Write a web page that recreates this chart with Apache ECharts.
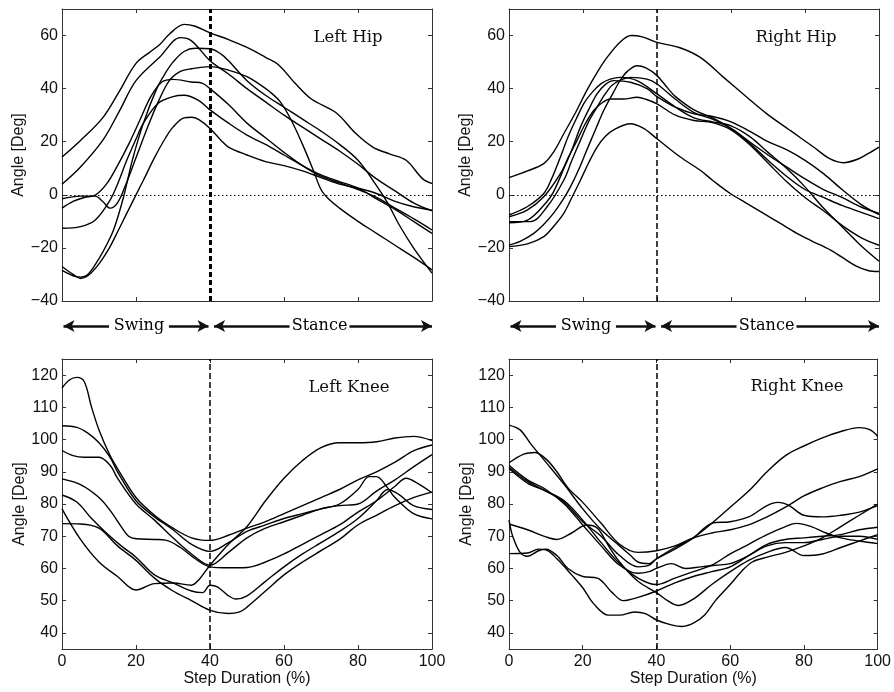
<!DOCTYPE html>
<html><head><meta charset="utf-8">
<script src="https://cdn.jsdelivr.net/npm/echarts@6/dist/echarts.min.js"></script>
<style>html,body{margin:0;padding:0;background:#fff}#c{width:894px;height:692px}</style>
</head><body><div id="c"></div>
<script>
// ---------- tick values / labels ----------
const xTicks = [0, 20, 40, 60, 80, 100];
const hipTicks = [-40, -20, 0, 20, 40, 60];
const kneeTicks = [40, 50, 60, 70, 80, 90, 100, 110, 120];
const hipRange = [-40, 70];
const kneeRange = [35, 125];
const panelTitles = ['Left Hip', 'Right Hip', 'Left Knee', 'Right Knee'];
const phaseNames = ['Swing', 'Stance'];
const phaseSplit = 40;

// ---------- Left Hip curves [step %, angle] ----------
const leftHip1 = [[0,14.25],[5,20.5],[11,29],[15.5,39],[20,49.5],[24,54],[26.5,56.7],[29,60.5],[33,64.2],[36,63.5],[40,61],[45,58.5],[50,55.5],[55,51.8],[58.5,49],[63,42],[67.5,36],[74,31],[79.5,23],[84,18],[88.5,15.4],[93,13],[97.5,6],[100,4.25]];
const leftHip2 = [[0,4],[5,10.5],[11,20.5],[15.5,31.5],[20,43],[26.5,52],[32,59.2],[35,58],[40,50.5],[45,45.5],[50,40],[55,35],[60,30],[65,25.5],[70,21],[75,16.5],[80,11.5],[85,6],[90,1.5],[95,-3],[100,-6]];
const leftHip3 = [[0,-28.5],[3,-30.5],[5,-31],[7,-30],[10,-24],[12,-19],[14,-13],[16.6,-1],[19,13],[22,27],[25.6,40],[28,46],[30,50],[33,54],[36,55.2],[40,55],[43,53],[45,50.5],[50,43],[55,37.5],[60,33],[65,28.5],[70,24],[75,19],[80,13],[85,3.5],[88,-3],[91,-11],[95,-20],[100,-29.5]];
const leftHip4 = [[0,-1.5],[5,-0.5],[9,-0.5],[11,-2.5],[13,-5],[15,-3],[17,3],[20,14],[23,25],[26,35],[29,43],[32,46.5],[35,47.5],[40,48.3],[45,47],[50,44.5],[53,42],[56,39],[59,35],[62,28],[65,19],[68,9],[70,2],[72,-1.5],[75,-5],[80,-10],[85,-14.5],[90,-19],[95,-23.5],[100,-28.25]];
const leftHip5 = [[0,-5],[3,-2.5],[6,-1],[9,-0.1],[12,4],[15,11],[18,19],[21,28],[24,37],[27,42.5],[30,43.5],[35,42.5],[38,42],[40,40],[45,34],[50,27],[55,21.5],[60,16],[65,11],[70,7],[75,4.5],[80,2],[85,-1],[90,-5],[95,-9],[100,-13.25]];
const leftHip6 = [[0,-12.6],[5,-12],[9,-9.5],[13,-2],[15,4],[17.5,13],[20,21],[22,27],[26,34.5],[30,37],[33,37.5],[37,35.5],[40,32],[45,27],[50,22.5],[55,19],[60,15],[65,11],[70,7.5],[75,5],[80,2.5],[85,-1.5],[90,-5.5],[95,-10],[100,-14.5]];
const leftHip7 = [[0,-27],[3,-30],[5,-31.5],[7,-30.5],[10,-26],[13,-19.5],[15,-14],[17.5,-7],[20,0],[22,5.5],[25,14],[28,21.5],[30,25.5],[33,29],[35,29.2],[37,28.3],[40,25],[43,20.5],[45,18],[50,15],[55,12.5],[60,11],[65,9],[70,6.5],[75,4],[80,2.5],[85,0.5],[90,-2.5],[95,-4.5],[100,-5.75]];

// ---------- Right Hip curves ----------
const rightHip1 = [[0,6.5],[5,9],[9.4,11.75],[12,16],[14.8,23],[18,31],[21,39.25],[24,46.5],[26.5,51.75],[30,57.5],[33,60],[36,59.5],[40,57.4],[46,55.5],[51.7,51.75],[58,44.25],[64.3,36.75],[69.7,30.5],[76,24.25],[82.3,18],[86.8,13.5],[90.4,12.1],[94,13.3],[97,15.5],[100,18]];
const rightHip2 = [[0,-19.5],[5,-18.5],[9.4,-15.75],[12,-12],[14.8,-7],[17,-1],[19.3,5.5],[21.5,12],[23.8,18],[26,22],[28.3,24.5],[32.8,26.75],[36.4,25],[40,21.1],[46.3,14.25],[51.7,9.25],[55,5.5],[59.8,0.5],[64,-3],[68.8,-7],[73,-10.5],[77.8,-14.5],[82,-17.5],[86.8,-20.75],[90,-23.5],[94,-27],[97,-28.5],[100,-28.9]];
const rightHip3 = [[0,-18.9],[3,-17.5],[6.7,-14.5],[9.5,-11],[12,-7],[14.5,-2],[16.6,3],[19,10],[21,16.75],[23.5,25],[25.6,31.75],[28,38],[30,43],[32,46.5],[34.6,48.6],[37,47.8],[40,44.9],[43,40],[45,37],[50,32],[55,29],[60,25],[65,19.5],[70,13],[75,7],[80,2],[85,-1],[90,-4],[95,-6.5],[100,-9]];
const rightHip4 = [[0,-10.1],[5.8,-10.1],[10.3,-4.5],[14.8,5.5],[17,13],[19.3,20.5],[21.5,27.5],[23.8,33],[26,38],[28.3,41.75],[32.8,44.25],[37.3,43.6],[40,41.75],[45,36],[50,31],[55,28.5],[60,25],[65,20],[70,15],[75,10.5],[80,6],[85,2],[90,-1],[95,-4.5],[100,-7]];
const rightHip5 = [[0,-7.6],[4.9,-4.5],[9.4,0.5],[11.5,6],[13.9,14.25],[16,22],[18.4,29.25],[20.5,35],[22.9,39.25],[25,42],[27.4,43.6],[30,44.25],[34.6,43],[40,38],[45,33],[50,29],[55,27.5],[60,26],[65,22],[70,16],[75,10],[80,3],[85,-5],[90,-12],[95,-19],[100,-25]];
const rightHip6 = [[0,-8.25],[4.9,-5.75],[9.4,-0.75],[13.9,8],[16,14],[18.4,20.5],[20.5,26.5],[22.9,31.75],[25,34.5],[27.4,36.1],[31,36.1],[34.6,36.75],[37,36],[40,34.25],[45,30],[50,28],[55,27.2],[60,24.5],[65,19],[70,12],[75,5],[80,-1],[85,-6],[90,-11.5],[95,-16],[100,-19]];
const rightHip7 = [[0,-10.5],[5,-9.5],[10,-3],[12,1],[15,10.5],[17,17],[19.3,25.5],[21.5,32],[23.8,38],[26,41.5],[28.3,43],[32.8,42.4],[37.3,40],[40,37],[45,33],[50,30.5],[55,29.5],[60,27.5],[65,24],[70,20],[75,17],[80,13],[85,8],[90,2],[95,-3.5],[100,-7.5]];

// ---------- Left Knee curves ----------
const leftKnee1 = [[0,116],[2,118.5],[4,119.3],[6,118],[8,110],[10,103],[13,95],[15,91],[20,82],[25,76.5],[30,72.5],[35,69.5],[40,68.7],[45,70.3],[50,72.5],[55,74.5],[60,77],[65,79.5],[70,82],[75,84.5],[80,87.5],[85,90],[90,93],[95,96.5],[100,98.3]];
const leftKnee2 = [[0,104.3],[4,103.8],[7,102],[10,99],[13,94.5],[15,90],[20,81],[25,76],[30,72],[35,67.5],[40,65.3],[45,68],[50,71.5],[55,73.5],[60,75.5],[65,77],[70,78.5],[75,80],[80,84.5],[83,88.5],[85,88.5],[88,85],[90,82],[95,77],[100,75.4]];
const leftKnee3 = [[0,96.6],[3,95],[6,94.5],[10,94.5],[13,92],[15,88],[20,80],[25,75],[30,69.5],[35,64.5],[40,61],[45,65],[50,69.5],[55,72.5],[60,74.5],[65,76.5],[70,78.5],[75,79.5],[80,80],[85,84],[90,87.5],[95,91.5],[100,95.3]];
const leftKnee4 = [[0,87.8],[5,86],[10,82],[13,78],[16,73],[18,70],[20,69.2],[25,69],[28,68.8],[32,66.5],[36,63],[40,60.5],[45,60.2],[50,60.3],[55,62],[60,64.5],[65,67.5],[70,70.5],[75,73.5],[80,77.5],[85,81],[90,85.5],[93,88],[96,86.5],[100,83.5]];
const leftKnee5 = [[0,82.8],[4,80.6],[8,75.5],[12,71],[16,67],[20,63.5],[25,58],[30,55.5],[35,53],[38,52.5],[40,54.8],[42,54.3],[45,51.5],[47,50.5],[50,51.5],[55,56],[60,60.5],[65,64.5],[70,68],[75,71.5],[80,75.5],[85,81],[88,84.5],[91,83],[95,79.5],[100,78.3]];
const leftKnee6 = [[0,78.5],[5,69],[10,62],[15,57.5],[20,53.3],[25,55.3],[30,55.5],[35,54.8],[37,56.5],[40,61],[45,67.5],[50,73],[55,81],[60,88],[65,93.5],[70,97.5],[75,99],[80,99],[85,99.3],[90,100.5],[95,101],[100,99.7]];
const leftKnee7 = [[0,73.9],[5,73.8],[10,72.5],[15,67],[20,62.5],[25,57],[30,53],[35,50],[40,47],[45,46],[48,46.5],[50,48],[55,53],[60,58],[65,62],[70,65.5],[75,69],[80,73.5],[85,76.5],[90,79.5],[95,82],[100,83.7]];

// ---------- Right Knee curves ----------
const rightKnee1 = [[0,104.5],[3,103],[6,98.5],[10,93],[15,86],[20,78.5],[25,72],[30,67],[33,64],[35,62],[38,61.5],[40,63],[45,66],[50,69.5],[55,74],[60,79],[65,84],[70,90],[75,95],[80,98],[85,100.5],[90,102.5],[95,103.7],[98,103],[100,101]];
const rightKnee2 = [[0,92.8],[4,95.5],[7,96],[10,94],[13,90],[16,85],[20,80.5],[25,74],[30,67.5],[35,65],[40,65.5],[45,67],[50,69.5],[55,71],[60,72],[65,73.5],[70,76],[75,79],[80,82.5],[85,85],[90,87],[95,88.5],[100,90.9]];
const rightKnee3 = [[0,92],[5,87.5],[10,84.5],[15,80],[20,73.5],[25,67],[30,61],[35,58.5],[38,59],[40,60],[44,61.5],[48,60],[52,60.5],[56,61],[60,61.5],[65,64],[70,67],[75,68],[80,68],[85,69],[90,70],[95,70],[100,69]];
const rightKnee4 = [[0,91.4],[5,87],[10,84],[15,80.5],[20,74.5],[25,70],[30,64],[35,60.5],[38,61],[40,63],[45,66.5],[50,69.5],[55,74],[60,74.5],[65,76],[70,79.5],[73,80.5],[76,79.5],[80,76.5],[85,76],[90,76.5],[95,77.5],[100,79.5]];
const rightKnee5 = [[0,91],[5,86.5],[10,84],[15,81],[20,75],[25,68],[30,61.5],[35,57],[40,55],[45,57],[50,59],[55,61],[60,64.5],[65,67.5],[70,70.5],[75,73],[78,74],[82,73],[86,71],[90,69.5],[95,68.5],[100,67.7]];
const rightKnee6 = [[0,75],[1,70],[3,65],[5,63.8],[8,65.5],[10,66],[13,64],[16,60],[20,57.5],[24,57],[28,52.5],[31,50],[35,51],[40,53],[45,55.5],[50,57.5],[55,59],[60,60.5],[65,64],[70,67.5],[75,69],[80,69.5],[85,70],[90,70.5],[95,72],[100,72.8]];
const rightKnee7 = [[0,73.8],[5,72],[10,69.8],[13,69],[17,71],[21,73.5],[24,72.5],[27,67],[30,62],[35,56],[40,52.5],[43,50],[46,48.5],[50,50.5],[55,55],[60,59],[65,62.5],[70,65],[75,66.5],[80,64],[85,64.5],[90,66.5],[95,68.5],[100,70.5]];
const rightKnee8 = [[0,64.6],[5,64.8],[8,66],[10,65.8],[13,63],[17,58],[20,54],[23,49],[27,45.5],[30,45.5],[34,46.5],[37,46],[40,44],[44,42.5],[47,42],[50,43],[53,45.5],[56,50],[60,55],[63,59],[66,62],[70,63.5],[75,65],[80,67],[85,69.5],[90,73],[95,76.5],[100,80]];

const panelCurves = [
  [leftHip1, leftHip2, leftHip3, leftHip4, leftHip5, leftHip6, leftHip7],
  [rightHip1, rightHip2, rightHip3, rightHip4, rightHip5, rightHip6, rightHip7],
  [leftKnee1, leftKnee2, leftKnee3, leftKnee4, leftKnee5, leftKnee6, leftKnee7],
  [rightKnee1, rightKnee2, rightKnee3, rightKnee4, rightKnee5, rightKnee6, rightKnee7, rightKnee8]
];

// ---------- layout ----------
const grids = [
  {left: 62, top: 9, width: 370, height: 292},
  {left: 509, top: 9, width: 370, height: 292},
  {left: 62, top: 359, width: 370, height: 290},
  {left: 509, top: 359, width: 370, height: 290},
  {left: 62, top: 320, width: 370, height: 12},
  {left: 509, top: 320, width: 370, height: 12}
];
const titlePos = [[348, 38], [796, 38], [349, 388], [797, 387]];

const AX = '#333';
const TXT = '#111';
const sans = 'Liberation Sans, Arial, sans-serif';
const serif = 'DejaVu Serif, serif';
const minus = v => String(v).replace('-', '\u2212');

const xAxes = [], yAxes = [], series = [];
for (let p = 0; p < 4; p++) {
  const isKnee = p >= 2;
  const yt = isKnee ? kneeTicks : hipTicks;
  const yr = isKnee ? kneeRange : hipRange;
  const tick = {show: true, inside: true, length: 4, lineStyle: {color: AX, width: 1}};
  const line = {show: true, onZero: false, lineStyle: {color: AX, width: 1}};
  xAxes.push({
    gridIndex: p, type: 'value', min: 0, max: 100, interval: 20, position: 'bottom',
    axisLine: line, axisTick: tick, splitLine: {show: false},
    axisLabel: {show: isKnee, margin: 5, color: TXT, fontFamily: sans, fontSize: 16},
    name: isKnee ? 'Step Duration (%)' : '', nameLocation: 'middle', nameGap: 22,
    nameTextStyle: {color: TXT, fontFamily: sans, fontSize: 16}
  });
  xAxes.push({
    gridIndex: p, type: 'value', min: 0, max: 100, interval: 20, position: 'top',
    axisLine: line, axisTick: tick, axisLabel: {show: false}, splitLine: {show: false}
  });
  yAxes.push({
    gridIndex: p, type: 'value', min: yr[0], max: yr[1], position: 'left',
    axisLine: line, axisTick: Object.assign({customValues: yt}, tick), splitLine: {show: false},
    axisLabel: {customValues: yt, margin: 4, color: TXT, fontFamily: sans, fontSize: 16, formatter: minus},
    name: 'Angle [Deg]', nameLocation: 'middle', nameGap: 34,
    nameTextStyle: {color: TXT, fontFamily: sans, fontSize: 16}
  });
  yAxes.push({
    gridIndex: p, type: 'value', min: yr[0], max: yr[1], position: 'right',
    axisLine: line, axisTick: Object.assign({customValues: yt}, tick),
    axisLabel: {show: false}, splitLine: {show: false}
  });
  panelCurves[p].forEach((curve, i) => {
    const s = {
      type: 'line', xAxisIndex: 2 * p, yAxisIndex: 2 * p, data: curve,
      showSymbol: false, symbol: 'none', smooth: 0.35, silent: true, animation: false,
      lineStyle: {color: '#000', width: 1.4}
    };
    if (i === 0) {
      const ml = [{xAxis: phaseSplit, lineStyle: {type: p === 0 ? [5, 3] : [6, 3], width: p === 0 ? 3 : 1.5, color: '#000'}}];
      if (!isKnee) ml.push({yAxis: 0, lineStyle: {type: [1.5, 2.5], width: 1.2, color: '#000'}});
      s.markLine = {silent: true, symbol: 'none', label: {show: false}, animation: false, data: ml};
    }
    series.push(s);
  });
}

// swing / stance arrows under the hip panels (in step-% coordinates)
const phaseSpans = [[0.4, phaseSplit - 0.4], [phaseSplit + 1.1, 100]];
const phaseCenters = [20.8, 69.6];
const labelHalfGap = 8.1;
for (let k = 0; k < 2; k++) {
  const g = 4 + k;
  xAxes.push({gridIndex: g, type: 'value', min: 0, max: 100, show: false});
  yAxes.push({gridIndex: g, type: 'value', min: 0, max: 1, show: false});
  const segs = [];
  phaseSpans.forEach((sp, j) => {
    const c = phaseCenters[j];
    segs.push([{coord: [sp[0], 0.5], symbol: 'arrow'}, {coord: [c - labelHalfGap, 0.5], symbol: 'none'}]);
    segs.push([{coord: [c + labelHalfGap, 0.5], symbol: 'none'}, {coord: [sp[1], 0.5], symbol: 'arrow'}]);
  });
  series.push({
    type: 'scatter', xAxisIndex: 8 + k, yAxisIndex: 8 + k, silent: true, animation: false,
    symbolSize: 0, itemStyle: {opacity: 1, color: '#000'},
    data: phaseNames.map((n, j) => ({name: n, value: [phaseCenters[j], 0.5]})),
    label: {show: true, position: 'inside', formatter: '{b}', color: '#000', opacity: 1,
            fontFamily: serif, fontSize: 16},
    markLine: {
      silent: true, animation: false, symbolSize: [9, 11],
      lineStyle: {color: '#111', width: 2.5, type: 'solid'},
      label: {show: false},
      data: segs
    }
  });
}

const graphic = panelTitles.map((t, i) => ({
  type: 'text', x: titlePos[i][0], y: titlePos[i][1], silent: true,
  style: {text: t, fill: TXT, font: '16.5px ' + serif, textAlign: 'center', textVerticalAlign: 'middle'}
}));

const chart = echarts.init(document.getElementById('c'), null, {renderer: 'canvas'});
chart.setOption({
  animation: false, backgroundColor: '#fff',
  grid: grids, xAxis: xAxes, yAxis: yAxes, series: series, graphic: graphic
});
</script></body></html>
